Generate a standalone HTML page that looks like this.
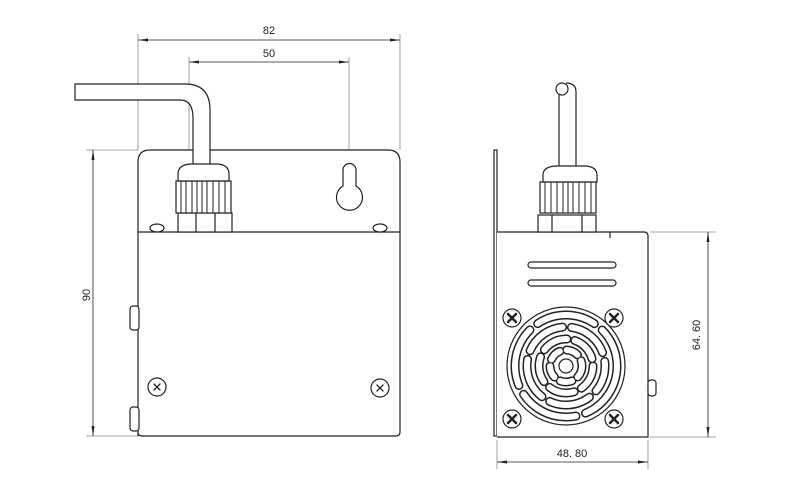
<!DOCTYPE html>
<html><head><meta charset="utf-8"><style>
html,body{margin:0;padding:0;background:#fff;}
svg{display:block}
text{font-family:"Liberation Sans",sans-serif;font-size:11px;fill:#222}
</style></head><body>
<svg width="800" height="500" viewBox="0 0 800 500" xmlns="http://www.w3.org/2000/svg">
<defs>
<marker id="a" markerWidth="10" markerHeight="6" refX="10" refY="3" orient="auto-start-reverse" markerUnits="userSpaceOnUse"><path d="M0,1.5 L10,3 L0,4.5 Z" fill="#222"/></marker>
</defs>
<g stroke="#888" stroke-width="0.8" fill="none">
<line x1="138" y1="34" x2="138" y2="150"/><line x1="400" y1="34" x2="400" y2="150"/>
<line x1="138" y1="40" x2="400" y2="40" marker-start="url(#a)" marker-end="url(#a)" stroke="#222"/>
<line x1="189" y1="57" x2="189" y2="170"/><line x1="349" y1="57" x2="349" y2="165"/>
<line x1="189" y1="62" x2="349" y2="62" marker-start="url(#a)" marker-end="url(#a)" stroke="#222"/>
<line x1="86" y1="150" x2="138" y2="150"/><line x1="86" y1="436" x2="138" y2="436"/>
<line x1="93" y1="150" x2="93" y2="436" marker-start="url(#a)" marker-end="url(#a)" stroke="#222"/>
<line x1="650" y1="232" x2="716" y2="232"/><line x1="650" y1="437" x2="716" y2="437"/>
<line x1="708" y1="232" x2="708" y2="437" marker-start="url(#a)" marker-end="url(#a)" stroke="#222"/>
<line x1="497" y1="440" x2="497" y2="469"/><line x1="648" y1="440" x2="648" y2="469"/>
<line x1="497" y1="462" x2="648" y2="462" marker-start="url(#a)" marker-end="url(#a)" stroke="#222"/>
</g>
<text x="269" y="34" text-anchor="middle">82</text>
<text x="269" y="57" text-anchor="middle">50</text>
<text x="90" y="295" text-anchor="middle" transform="rotate(-90 90 295)">90</text>
<text x="700" y="335" text-anchor="middle" transform="rotate(-90 700 335)">64. 60</text>
<text x="572" y="457" text-anchor="middle">48. 80</text>

<g stroke="#222" stroke-width="1.2" fill="#fff">
<path d="M138,436 V162 Q138,150 150,150 H388 Q400,150 400,162 V432 Q400,436 396,436 H142 Q138,436 138,432"/>
<line x1="138" y1="232" x2="400" y2="232"/>
<rect x="130" y="306" width="9" height="24" rx="3"/>
<rect x="130" y="407" width="9" height="24" rx="3"/>
<ellipse cx="157" cy="228" rx="7" ry="4"/><ellipse cx="380" cy="228" rx="7" ry="4"/>
<path d="M75,84 H185 Q210,84 210,110 V168 H193 V118 Q193,100 180,100 H75 Z"/>
<path d="M343,170 A6.5,6.5 0 0 1 356,170 V186 A13,13 0 1 1 343,186 Z"/>
<rect x="178" y="213" width="54" height="19"/>
<line x1="196" y1="213" x2="196" y2="232"/><line x1="215" y1="213" x2="215" y2="232"/>
<rect x="176" y="181" width="55" height="32"/>
<g stroke-width="1"><line x1="181" y1="181" x2="181" y2="213"/><line x1="186" y1="181" x2="186" y2="213"/><line x1="192" y1="181" x2="192" y2="213"/><line x1="197" y1="181" x2="197" y2="213"/><line x1="202" y1="181" x2="202" y2="213"/><line x1="207" y1="181" x2="207" y2="213"/><line x1="213" y1="181" x2="213" y2="213"/><line x1="219" y1="181" x2="219" y2="213"/><line x1="225" y1="181" x2="225" y2="213"/></g>
<path d="M178,181 V174 Q178,165 190,164 H218 Q229,165 229,174 V181 Z"/>
<circle cx="157" cy="387" r="9"/><circle cx="380" cy="388" r="9"/>

<rect x="494" y="150" width="3" height="286"/>
<path d="M497,232 H644 Q648,232 648,236 V437 H497"/>
<rect x="648" y="380" width="8" height="16" rx="3"/>
<path d="M559,92 V167 H576 V92 Q576,83 566,83"/>
<circle cx="562" cy="89" r="6"/>
<rect x="538" y="215" width="58" height="17"/>
<line x1="552" y1="215" x2="552" y2="232"/><line x1="582" y1="215" x2="582" y2="232"/>
<rect x="540" y="182" width="56" height="31"/>
<g stroke-width="1"><line x1="545" y1="182" x2="545" y2="213"/><line x1="551" y1="182" x2="551" y2="213"/><line x1="557" y1="182" x2="557" y2="213"/><line x1="563" y1="182" x2="563" y2="213"/><line x1="568" y1="182" x2="568" y2="213"/><line x1="573" y1="182" x2="573" y2="213"/><line x1="579" y1="182" x2="579" y2="213"/><line x1="585" y1="182" x2="585" y2="213"/><line x1="591" y1="182" x2="591" y2="213"/></g>
<path d="M543,182 V175 Q543,167 555,166 H586 Q597,167 597,175 V182 Z"/>
<line x1="610" y1="232" x2="610" y2="238"/>
<rect x="528" y="262" width="88" height="6" rx="3"/>
<rect x="528" y="280" width="88" height="6" rx="3"/>
<circle cx="566" cy="366" r="59" fill="none"/>
</g>
<!-- fan slots -->
<g fill="none" stroke-linecap="round">
<g stroke="#222" stroke-width="9">
<circle cx="566" cy="366" r="51" stroke-dasharray="60 10"/>
<circle cx="566" cy="366" r="39" stroke-dasharray="42 9" stroke-dashoffset="15"/>
<circle cx="566" cy="366" r="27" stroke-dasharray="26 8"/>
<circle cx="566" cy="366" r="16" stroke-dasharray="12 7"/>
</g>
<g stroke="#fff" stroke-width="6">
<circle cx="566" cy="366" r="51" stroke-dasharray="60 10"/>
<circle cx="566" cy="366" r="39" stroke-dasharray="42 9" stroke-dashoffset="15"/>
<circle cx="566" cy="366" r="27" stroke-dasharray="26 8"/>
<circle cx="566" cy="366" r="16" stroke-dasharray="12 7"/>
</g>
</g>
<circle cx="566" cy="366" r="7" fill="#fff" stroke="#222" stroke-width="1.2"/>
<g stroke="#222" stroke-width="1.2" fill="#fff">
<circle cx="512" cy="318" r="9"/><circle cx="614" cy="318" r="9"/>
<circle cx="512" cy="419" r="9"/><circle cx="614" cy="419" r="9"/>
</g>
<g stroke="#222" stroke-width="2.5" stroke-linecap="round">
<path d="M508,314 L516,322 M516,314 L508,322"/>
<path d="M610,314 L618,322 M618,314 L610,322"/>
<path d="M508,415 L516,423 M516,415 L508,423"/>
<path d="M610,415 L618,423 M618,415 L610,423"/>
</g>
<g stroke="#222" stroke-width="1.3" stroke-linecap="round">
<path d="M154,384 L160,390 M160,384 L154,390"/>
<path d="M377,385 L383,391 M383,385 L377,391"/>
</g>
</svg>
</body></html>
